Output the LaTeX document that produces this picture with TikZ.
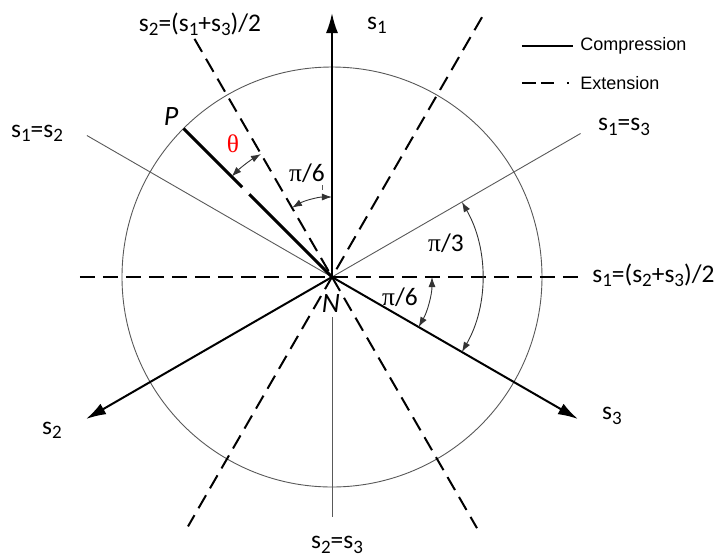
\documentclass[tikz,border=0pt]{standalone}
\usepackage{fontspec}
\setmainfont{Carlito}
\newfontfamily\legendfont{Liberation Sans}
\newfontfamily\greekfont{Liberation Serif}
\usetikzlibrary{arrows.meta}
\newcommand{\sv}[1]{s\raisebox{-0.35ex}{\fontsize{9.5}{9.5}\selectfont #1}}

\begin{document}
\begin{tikzpicture}[x=0.5pt,y=0.5pt,
  axis/.style={line width=1pt,-{Latex[length=10pt,width=6pt]}},
  ext/.style={line width=1pt,dash pattern=on 7.5pt off 4pt},
  thinline/.style={line width=0.45pt,black!65},
  angarrow/.style={line width=0.45pt,black!80,{Latex[length=5pt,width=3.5pt]}-{Latex[length=5pt,width=3.5pt]}},
  lab/.style={font=\fontsize{12.7}{13}\selectfont,inner sep=0pt}]
\useasboundingbox (-332,-282) rectangle (392,277);

\coordinate (N) at (0,0);
\coordinate (S1) at (90:264);
\coordinate (S2) at (210:284);
\coordinate (S3) at (330:284);
\coordinate (P) at (135:210);

%Circle and planes:
\draw[thinline] (N) circle (210);
\draw[thinline] (N) -- (30:287);
\draw[thinline] (N) -- (150:283);
\draw[thinline] (0,-40) -- (0,-240);
\draw[ext] (-252,0) -- (248,0);
\draw[ext] (60:300) -- (240:288);
\draw[ext] (120:275) -- (300:290);

%Principal axes:
\draw[axis] (N) -- (S1);
\draw[axis] (N) -- (S2);
\draw[axis] (N) -- (S3);
\draw[line width=1.5pt] (P) -- (135:127);
\draw[line width=1.5pt] (135:117) -- (N);

%Angles:
\draw[angarrow] (120:142) arc(120:135:142);
\draw[angarrow] (120:80) arc(120:90:80);
\draw[angarrow] (-30:150) arc(-30:30:150);
\draw[angarrow] (-30:100) arc(-30:0:100);
\draw[thinline] (-10,92) -- (-10,87);

\node[lab] (th) at (-99,133) {\color{red}\greekfont θ};
\node[lab] (a1) at (-25,104) {{\greekfont π}/6};
\node[lab] (a2) at (114,34) {{\greekfont π}/3};
\node[lab] (a3) at (68,-20) {{\greekfont π}/6};

%Labels:
\node[lab,font=\fontsize{14}{14}\selectfont\itshape] (lP) at (-161,160) {P};
\node[lab,font=\fontsize{14}{14}\selectfont\itshape] (lN) at (-1,-27) {N};
\node[lab] (lS1) at (45,252) {\sv{1}};
\node[lab] (lS2) at (-280,-153) {\sv{2}};
\node[lab] (lS3) at (280,-139) {\sv{3}};
\node[lab] (l12) at (-295,144) {\sv{1}=\sv{2}};
\node[lab] (l13) at (292,150) {\sv{1}=\sv{3}};
\node[lab] (l23) at (5,-268) {\sv{2}=\sv{3}};
\node[lab,anchor=west] (lx1) at (260,2) {\sv{1}=(\sv{2}+\sv{3})/2};
\node[lab] (lx2) at (-132,253) {\sv{2}=(\sv{1}+\sv{3})/2};

%Legend:
\coordinate (c1) at (190,231);
\coordinate (c2) at (241,231);
\coordinate (e1) at (190,194);
\coordinate (e2) at (241,194);
\draw[line width=0.8pt] (c1) -- (c2);
\draw[line width=0.8pt,dash pattern=on 7pt off 2.5pt on 6.5pt off 6.5pt on 1pt off 5pt] (e1) -- (e2);
\node[anchor=west,inner sep=0pt,font=\legendfont\fontsize{9}{9}\selectfont] (lcomp) at (248,231) {Compression};
\node[anchor=west,inner sep=0pt,font=\legendfont\fontsize{9}{9}\selectfont] (lext) at (248,194) {Extension};

\end{tikzpicture}
\end{document}
